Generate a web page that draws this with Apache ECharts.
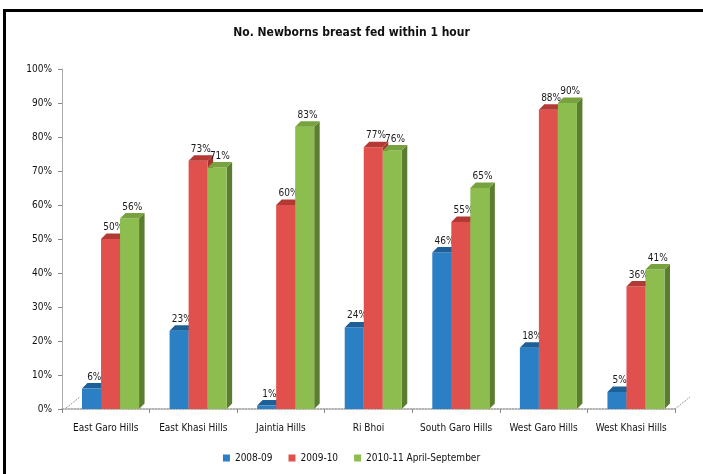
<!DOCTYPE html>
<html><head><meta charset="utf-8">
<script src="https://cdn.jsdelivr.net/npm/echarts@6/dist/echarts.min.js"></script>
<style>html,body{margin:0;padding:0;background:#fff}#c{width:703px;height:474px}</style>
</head><body><div id="c"></div>
<script>
var categories = ['East Garo Hills','East Khasi Hills','Jaintia Hills','Ri Bhoi','South Garo Hills','West Garo Hills','West Khasi Hills'];
var s2008 = [6, 23, 1, 24, 46, 18, 5];
var s2009 = [50, 73, 60, 77, 55, 88, 36];
var s2010 = [56, 71, 83, 76, 65, 90, 41];
var seriesNames = ['2008-09','2009-10','2010-11 April-September'];
var yTicks = [0,10,20,30,40,50,60,70,80,90,100];

var FONT = '"Liberation Sans Narrow","DejaVu Sans Condensed","Liberation Sans",sans-serif';
var colors = [
  {front:'#2a7fc5', top:'#1d5f97', side:'#1d5f97'},
  {front:'#e0504d', top:'#b33935', side:'#a8322f'},
  {front:'#8cbd4e', top:'#77a23d', side:'#5b7d30'}
];

function makeRender(si){
  return function(params, api){
    var idx = api.value(0), v = api.value(1);
    var base = api.coord([idx, 0]);
    var top = api.coord([idx, v]);
    var band = api.size([1,0])[0];
    var bw = band*19/87.5;
    var d = band*5.5/87.5;
    var x0 = base[0] - band/2 + band*20/87.5 + si*bw;
    var ty = top[1], by = base[1];
    var c = colors[si];
    return {type:'group', children:[
      {type:'polygon', shape:{points:[[x0+bw,ty],[x0+bw+d,ty-d],[x0+bw+d,by-d],[x0+bw,by]]}, style:{fill:c.side}},
      {type:'rect', shape:{x:x0, y:ty, width:bw, height:by-ty}, style:{fill:c.front}},
      {type:'polygon', shape:{points:[[x0,ty],[x0+d,ty-d],[x0+bw+d,ty-d],[x0+bw,ty]]}, style:{fill:c.top}},
      {type:'text', x:x0+bw/2+d/2, y:ty-d-1, style:{text:v+'%', textAlign:'center', textVerticalAlign:'bottom', fill:'#1a1a1a', font:'10px '+FONT}}
    ]};
  };
}

var data = [s2008, s2009, s2010];
var series = data.map(function(arr, si){
  return {
    type:'custom', name:seriesNames[si],
    itemStyle:{color:colors[si].front},
    renderItem: makeRender(si),
    encode:{x:0, y:1},
    data: arr.map(function(v,i){return [i, v];})
  };
});

var chart = echarts.init(document.getElementById('c'), null, {renderer:'canvas'});
chart.setOption({
  animation:false,
  title:{text:'No. Newborns breast fed within 1 hour', left:'center', top:22,
    textStyle:{fontSize:12, fontWeight:'bold', color:'#111', fontFamily:FONT}},
  grid:{left:62, right:28, top:69, bottom:65},
  legend:{bottom:6, left:'center', icon:'rect', itemWidth:7, itemHeight:7, itemGap:16,
    textStyle:{fontSize:10, color:'#111', fontFamily:FONT}, data:seriesNames},
  xAxis:{type:'category', data:categories,
    axisLine:{lineStyle:{color:'#999', type:'dotted', width:1.5}},
    axisTick:{show:true, alignWithLabel:false, length:4, lineStyle:{color:'#888'}},
    axisLabel:{interval:0, fontSize:10, color:'#111', fontFamily:FONT, margin:14}},
  yAxis:{type:'value', min:0, max:100, interval:10,
    axisLine:{show:true, lineStyle:{color:'#aaa'}},
    axisTick:{show:true, length:4, lineStyle:{color:'#888'}},
    splitLine:{show:false},
    axisLabel:{formatter:'{value}%', fontSize:10, color:'#111', fontFamily:FONT, margin:10}},
  graphic:[
    {type:'rect', shape:{x:3, y:9, width:700, height:3}, style:{fill:'#000'}},
    {type:'rect', shape:{x:3, y:9, width:3, height:465}, style:{fill:'#000'}},
    {type:'line', shape:{x1:66, y1:408, x2:80, y2:397}, style:{stroke:'#999', lineWidth:1, lineDash:[2,1]}},
    {type:'line', shape:{x1:675, y1:409, x2:690, y2:397}, style:{stroke:'#999', lineWidth:1, lineDash:[2,1]}}
  ],
  series: series
});
</script></body></html>
